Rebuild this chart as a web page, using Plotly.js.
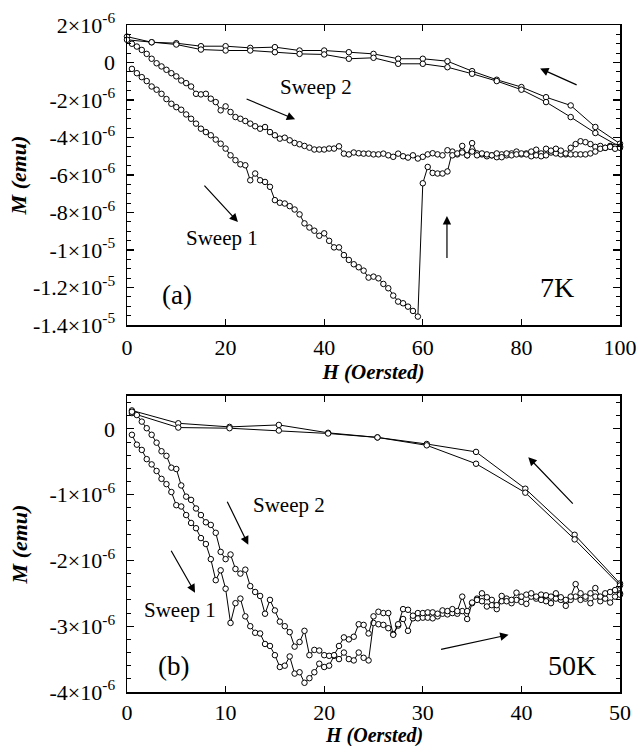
<!DOCTYPE html>
<html>
<head>
<meta charset="utf-8">
<script src="https://cdn.plot.ly/plotly-3.0.1.min.js"></script>
<style>html,body{margin:0;padding:0;background:#fff;}#chart{width:637px;height:746px;}</style>
</head>
<body>
<div id="chart"></div>
<script>
// ---------- Panel (a): 7K, M in units of 1e-6 emu ----------
const hA_sweep1 = [1,2,3,4,5,6,7,8,9,10,11,12,13,14,15,16,17,18,19,20,21,22,23,24,25,26,27,28,29,30,31,32,33,34,35,36,37,38,39,40,41,42,43,44,45,46,47,48,49,50,51,52,53,54,55,56,57,58,59,60,61,62,63,64,65,66,67,68,69,70,71,72,73,74,75,76,77,78,79,80,81,82,83,84,85,86,87,88,89,90,91,92,93,94,95,96,97,98,99,100];
const mA_sweep1 = [-0.34,-0.57,-0.78,-0.99,-1.28,-1.45,-1.67,-1.95,-2.2,-2.38,
 -2.52,-2.77,-3.0,-3.26,-3.53,-3.71,-3.88,-4.11,-4.33,-4.59,
 -4.95,-5.21,-5.43,-5.48,-6.28,-5.92,-6.28,-6.37,-6.63,-7.34,
 -7.48,-7.52,-7.66,-7.84,-8.1,-8.58,-8.8,-8.97,-9.24,-9.11,
 -9.51,-9.86,-9.86,-10.27,-10.53,-10.76,-10.92,-11.1,-11.47,-11.42,
 -11.51,-11.81,-12.04,-12.43,-12.75,-12.84,-13.02,-13.25,-13.55,-6.44,
 -5.57,-5.89,-5.92,-5.92,-5.81,-4.75,-4.9,-4.45,-4.95,-4.3,
 -4.85,-4.9,-5.0,-4.95,-5.05,-4.9,-4.95,-4.85,-4.75,-4.9,
 -4.85,-5.0,-4.65,-4.85,-4.6,-4.8,-4.85,-4.9,-4.9,-4.55,
 -4.35,-4.2,-4.25,-4.35,-4.5,-4.45,-4.55,-4.45,-4.5,-4.5];
const hA_sweep2 = hA_sweep1;
const mA_sweep2 = [1.0,0.85,0.67,0.46,0.2,-0.04,-0.21,-0.39,-0.57,-0.74,
 -0.96,-1.1,-1.28,-1.67,-1.7,-1.67,-1.93,-2.11,-2.55,-2.34,
 -2.64,-2.91,-3.0,-3.12,-3.26,-3.4,-3.53,-3.44,-3.71,-3.88,
 -4.06,-4.01,-4.15,-4.29,-4.36,-4.45,-4.54,-4.64,-4.64,-4.64,
 -4.59,-4.59,-4.47,-4.86,-4.9,-4.8,-4.84,-4.86,-4.86,-4.9,
 -4.9,-4.86,-4.95,-5.03,-4.86,-5.0,-5.07,-4.95,-5.12,-5.03,
 -4.9,-4.84,-4.9,-4.95,-4.68,-4.95,-4.85,-4.8,-4.95,-4.75,
 -4.95,-4.85,-4.9,-4.95,-4.85,-5.05,-4.85,-4.95,-4.9,-4.85,
 -4.9,-4.75,-4.95,-5.0,-4.95,-4.7,-4.6,-4.7,-4.85,-4.9,
 -4.9,-4.9,-4.9,-4.85,-4.75,-4.6,-4.55,-4.5,-4.6,-4.55];
const hA_return = [0,5,10,15,20,25,30,35,40,45,50,55,60,65,70,75,80,85,90,95,100];
const mA_return1 = [1.38,1.08,1.03,0.87,0.87,0.78,0.82,0.64,0.64,0.55,0.46,0.2,0.2,0.07,-0.46,-0.92,-1.31,-1.85,-2.29,-3.44,-4.33];
const mA_return2 = [1.21,1.08,0.96,0.69,0.64,0.64,0.55,0.46,0.43,0.2,0.25,-0.07,-0.07,-0.25,-0.6,-0.99,-1.45,-2.11,-2.91,-3.76,-4.5];

// ---------- Panel (b): 50K ----------
const hB_sweep = [0.5,1,1.5,2,2.5,3,3.5,4,4.5,5,5.5,6,6.5,7,7.5,8,8.5,9,9.5,10,10.5,11,11.5,12,12.5,13,13.5,14,14.5,15,15.5,16,16.5,17,17.5,18,18.5,19,19.5,20,20.5,21,21.5,22,22.5,23,23.5,24,24.5,25,25.5,26,26.5,27,27.5,28,28.5,29,29.5,30,30.5,31,31.5,32,32.5,33,33.5,34,34.5,35,35.5,36,36.5,37,37.5,38,38.5,39,39.5,40,40.5,41,41.5,42,42.5,43,43.5,44,44.5,45,45.5,46,46.5,47,47.5,48,48.5,49,49.5,50];
const mB_sweep1 = [-0.09,-0.24,-0.32,-0.46,-0.54,-0.64,-0.76,-0.84,-0.96,-1.16,
 -1.18,-1.31,-1.43,-1.51,-1.66,-1.75,-1.98,-2.3,-2.15,-2.43,
 -2.95,-2.65,-2.58,-2.85,-3.0,-3.1,-3.11,-3.27,-3.3,-3.44,
 -3.62,-3.6,-3.46,-3.72,-3.7,-3.86,-3.79,-3.7,-3.57,-3.62,
 -3.6,-3.45,-3.5,-3.4,-3.5,-3.52,-3.4,-3.48,-3.52,-2.95,
 -2.97,-2.98,-3.03,-3.12,-2.99,-2.89,-3.07,-2.88,-2.88,-2.87,
 -2.87,-2.88,-2.85,-2.81,-2.82,-2.8,-2.81,-2.77,-2.89,-2.65,
 -2.58,-2.62,-2.7,-2.68,-2.74,-2.62,-2.58,-2.65,-2.6,-2.63,
 -2.66,-2.55,-2.58,-2.52,-2.62,-2.65,-2.58,-2.6,-2.69,-2.6,
 -2.55,-2.6,-2.58,-2.65,-2.55,-2.62,-2.58,-2.64,-2.55,-2.5];
const mB_sweep2 = [0.26,0.21,0.11,0.01,-0.09,-0.21,-0.34,-0.41,-0.59,-0.61,
 -0.86,-1.03,-1.08,-1.21,-1.31,-1.42,-1.46,-1.58,-1.87,-1.98,
 -1.91,-2.13,-2.2,-2.14,-2.39,-2.48,-2.54,-2.81,-2.6,-2.76,
 -2.93,-3.0,-3.09,-3.31,-3.24,-3.07,-3.44,-3.36,-3.37,-3.44,
 -3.45,-3.44,-3.3,-3.17,-3.2,-3.16,-2.97,-2.98,-3.11,-2.85,
 -2.78,-2.8,-2.8,-3.13,-2.97,-2.74,-2.75,-2.84,-2.8,-2.8,
 -2.79,-2.79,-2.81,-2.76,-2.77,-2.74,-2.77,-2.55,-2.77,-2.64,
 -2.6,-2.5,-2.56,-2.6,-2.68,-2.54,-2.62,-2.6,-2.49,-2.55,
 -2.52,-2.5,-2.55,-2.6,-2.53,-2.55,-2.5,-2.56,-2.6,-2.55,
 -2.36,-2.5,-2.55,-2.5,-2.42,-2.55,-2.5,-2.48,-2.45,-2.52];
const hB_return = [0.5,5.2,10.4,15.4,20.4,25.4,30.4,35.4,40.4,45.4,50];
const mB_return1 = [0.28,0.085,0.03,0.06,-0.06,-0.13,-0.23,-0.35,-0.91,-1.61,-2.35];
const mB_return2 = [0.24,0.02,0.01,-0.025,-0.07,-0.13,-0.25,-0.53,-0.97,-1.68,-2.38];

// ---------- tick labels ----------
const yTicksA = [2,0,-2,-4,-6,-8,-10,-12,-14];
const yLabelsA = ['2×10<sup>-6</sup>','0','-2×10<sup>-6</sup>','-4×10<sup>-6</sup>','-6×10<sup>-6</sup>','-8×10<sup>-6</sup>','-1×10<sup>-5</sup>','-1.2×10<sup>-5</sup>','-1.4×10<sup>-5</sup>'];
const yTicksB = [0,-1,-2,-3,-4];
const yLabelsB = ['0','-1×10<sup>-6</sup>','-2×10<sup>-6</sup>','-3×10<sup>-6</sup>','-4×10<sup>-6</sup>'];
const xTicksA = [0,20,40,60,80,100];
const xTicksB = [0,10,20,30,40,50];
const xTitle = '<b><i>H (Oersted)</i></b>';
const yTitle = '<b><i>M (emu)</i></b>';

const SERIF = 'Liberation Serif, Times New Roman, serif';
const mk = {symbol:'circle', size:5.5, color:'white', line:{color:'black', width:1}};
const ln = {color:'black', width:1};
function tr(x, y, xa, ya){
  return {x:x, y:y, xaxis:xa, yaxis:ya, type:'scatter', mode:'lines+markers', marker:mk, line:ln, cliponaxis:false, hoverinfo:'skip'};
}
const data = [
  tr(hA_return, mA_return1, 'x', 'y'),
  tr(hA_return, mA_return2, 'x', 'y'),
  tr(hA_sweep1, mA_sweep1, 'x', 'y'),
  tr(hA_sweep2, mA_sweep2, 'x', 'y'),
  tr(hB_return, mB_return1, 'x2', 'y2'),
  tr(hB_return, mB_return2, 'x2', 'y2'),
  tr(hB_sweep, mB_sweep1, 'x2', 'y2'),
  tr(hB_sweep, mB_sweep2, 'x2', 'y2')
];

const tickFont = {family:SERIF, size:22, color:'black'};
const titleFont = {family:SERIF, size:21, color:'black'};
function xax(range, vals, anchor, title, lblStandoff){
  const a = {domain:[0,1], anchor:anchor, range:range, tickmode:'array', tickvals:vals,
    ticks:'inside', ticklen:6, tickwidth:1.2, tickcolor:'black', showline:true, linewidth:1.5, linecolor:'black',
    mirror:'ticks', showgrid:false, zeroline:false, tickfont:tickFont, ticklabelstandoff:lblStandoff};
  if (title) a.title = {text:title, font:titleFont, standoff:0};
  return a;
}
function yax(range, dom, vals, labels, minorStep, anchor, standoff){
  return {domain:dom, anchor:anchor, range:range, tickmode:'array', tickvals:vals, ticktext:labels,
    ticks:'inside', ticklen:7, tickwidth:1.2, tickcolor:'black', showline:true, linewidth:1.5, linecolor:'black',
    mirror:'ticks', showgrid:false, zeroline:false, tickfont:tickFont, ticklabelstandoff:6,
    minor:{tickmode:'linear', tick0:0, dtick:minorStep, ticks:'inside', ticklen:4, tickwidth:1, tickcolor:'black', showgrid:false},
    title:{text:yTitle, font:{family:SERIF, size:22, color:'black'}, standoff:standoff}};
}

function txt(x, y, xr, yr, s, size){
  return {x:x, y:y, xref:xr, yref:yr, text:s, showarrow:false, font:{family:SERIF, size:size, color:'black'}};
}
function arr(x, y, xr, yr, ax, ay){
  return {x:x, y:y, xref:xr, yref:yr, ax:ax, ay:ay, text:' ', showarrow:true, arrowhead:2, arrowsize:1.4, arrowwidth:1.2, arrowcolor:'black', font:{size:1}};
}

const layout = {
  width:637, height:746,
  margin:{l:127, r:17, t:25, b:54},
  paper_bgcolor:'white', plot_bgcolor:'white',
  showlegend:false,
  xaxis: xax([0,100], xTicksA, 'y', xTitle, 2),
  yaxis: yax([-14,2], [0.5502,1], yTicksA, yLabelsA, 0.5, 'x', 0),
  xaxis2: xax([0,50], xTicksB, 'y2', null, 0),
  yaxis2: yax([-4,0.5], [0,0.4438], yTicksB, yLabelsB, 0.2, 'x2', 16),
  annotations:[
    {x:0.5, y:0, xref:'paper', yref:'paper', yanchor:'top', yshift:-30, text:xTitle, showarrow:false, font:{family:SERIF, size:20, color:'black'}},
    txt(38.3, -1.33, 'x', 'y', 'Sweep 2', 21),
    txt(19.3, -9.36, 'x', 'y', 'Sweep 1', 21),
    txt(10.1, -12.4, 'x', 'y', '(a)', 27),
    txt(87.3, -12.0, 'x', 'y', '7K', 28),
    arr(34.1, -3.03, 'x', 'y', -50, -21),
    arr(83.8, -0.32, 'x', 'y', 38, 17),
    arr(22.5, -8.51, 'x', 'y', -35, -38),
    arr(64.9, -8.19, 'x', 'y', 0, 44),
    txt(16.4, -1.15, 'x2', 'y2', 'Sweep 2', 21),
    txt(5.4, -2.75, 'x2', 'y2', 'Sweep 1', 21),
    txt(4.7, -3.6, 'x2', 'y2', '(b)', 27),
    txt(45.1, -3.6, 'x2', 'y2', '50K', 28),
    arr(12.3, -1.76, 'x2', 'y2', -22, -45),
    arr(6.9, -2.49, 'x2', 'y2', -25, -44),
    arr(40.7, -0.43, 'x2', 'y2', 46, 48),
    arr(38.7, -3.13, 'x2', 'y2', -69, 15)
  ]
};

Plotly.newPlot('chart', data, layout, {staticPlot:true, displayModeBar:false});
</script>
</body>
</html>
